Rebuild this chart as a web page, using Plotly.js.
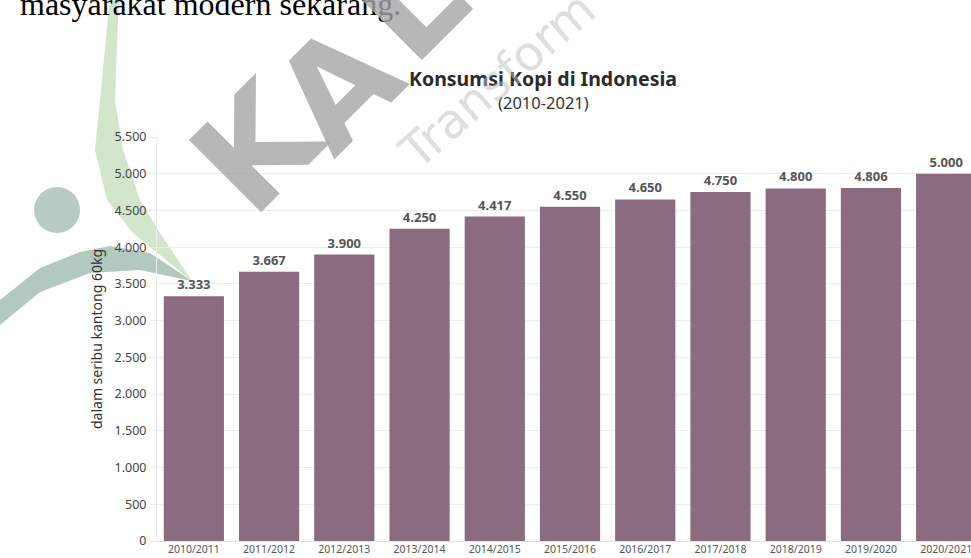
<!DOCTYPE html>
<html>
<head>
<meta charset="utf-8">
<script src="https://cdn.plot.ly/plotly-3.0.1.min.js"></script>
<style>
  html, body { margin: 0; padding: 0; background: #ffffff; }
  #chart { width: 971px; height: 558px; }
</style>
</head>
<body>
<div id="chart"></div>
<script>
// ---- data ----
const categories = ['2010/2011', '2011/2012', '2012/2013', '2013/2014', '2014/2015', '2015/2016',
                    '2016/2017', '2017/2018', '2018/2019', '2019/2020', '2020/2021'];
const consumption = [3333, 3667, 3900, 4250, 4417, 4550, 4650, 4750, 4800, 4806, 5000];
const chartTitle = 'Konsumsi Kopi di Indonesia';
const chartSubtitle = '(2010-2021)';
const yAxisTitle = 'dalam seribu kantong 60kg';
const pageText = 'masyarakat modern sekarang.';
const watermarkLetters = ['K', 'A', 'L'];
const watermarkWord = 'Transform';

// ---- layout helpers (pixel -> paper) ----
const W = 971, H = 558;
const M = { l: 157, r: 0, t: 137, b: 17 };
const PW = W - M.l - M.r, PH = H - M.t - M.b;
const px = x => (x - M.l) / PW;
const py = y => (H - M.b - y) / PH;
const path = pts => pts.map((p, i) => (i ? 'L' : 'M') + px(p[0]).toFixed(4) + ',' + py(p[1]).toFixed(4)).join(' ') + ' Z';

const FONT = '"Noto Sans", "Open Sans", sans-serif';

const trace = {
  type: 'bar',
  x: categories,
  y: consumption,
  marker: { color: '#8b6b80' },
  text: consumption,
  texttemplate: '%{y:,.0f}',
  textposition: 'outside',
  textfont: { family: FONT, size: 13, color: '#555555', weight: 'bold' },
  cliponaxis: false,
  hoverinfo: 'skip'
};

// watermark letter positions (centres in px)
const letterPos = [[257, 147], [338, 88], [410, 4]];

const annotations = [
  { text: chartSubtitle, xref: 'paper', yref: 'paper', x: px(543), y: py(103),
    xanchor: 'center', yanchor: 'middle', showarrow: false,
    font: { family: FONT, size: 16.5, color: '#333333' } },
  { text: pageText, xref: 'paper', yref: 'paper', x: px(18), y: py(24),
    xanchor: 'left', yanchor: 'bottom', showarrow: false,
    font: { family: '"Liberation Serif", "Times New Roman", serif', size: 32, color: '#000000' } },
  { text: watermarkWord, xref: 'paper', yref: 'paper', x: px(497), y: py(80),
    xanchor: 'center', yanchor: 'middle', showarrow: false, textangle: -41,
    font: { family: '"DejaVu Sans", sans-serif', size: 48, color: 'rgba(190,190,190,0.5)' } }
].concat(watermarkLetters.map((ch, i) => ({
  text: ch, xref: 'paper', yref: 'paper', x: px(letterPos[i][0]), y: py(letterPos[i][1]),
  xanchor: 'center', yanchor: 'middle', showarrow: false, textangle: -45,
  font: { family: '"DejaVu Sans", sans-serif', size: 140, weight: 'bold', color: 'rgba(165,165,165,0.8)' }
})));

const shapes = [
  // green crescent
  { type: 'path', xref: 'paper', yref: 'paper', layer: 'below', line: { width: 0 },
    fillcolor: '#d3e6cb',
    path: path([[110, -5], [100, 100], [95, 150], [107, 200], [133, 233], [192, 281],
                [160, 233], [140, 200], [123, 150], [115, 100], [119, -5]]) },
  // teal swoosh
  { type: 'path', xref: 'paper', yref: 'paper', layer: 'below', line: { width: 0 },
    fillcolor: '#b3c8be',
    path: path([[0, 300], [40, 268], [80, 252], [110, 246], [150, 253], [192, 281],
                [140, 270], [90, 273], [40, 292], [0, 325]]) },
  // teal dot
  { type: 'circle', xref: 'paper', yref: 'paper', layer: 'below', line: { width: 0 },
    fillcolor: '#b8ccc3',
    x0: px(34), x1: px(80), y0: py(233), y1: py(187) }
];

const layout = {
  width: W, height: H,
  margin: M,
  paper_bgcolor: '#ffffff',
  plot_bgcolor: 'rgba(0,0,0,0)',
  separators: ',.',
  showlegend: false,
  bargap: 0.2,
  font: { family: FONT, color: '#444444' },
  title: {
    text: '<b>' + chartTitle + '</b>',
    xref: 'paper', yref: 'container',
    x: px(543), xanchor: 'center',
    y: 1 - 79 / H, yanchor: 'middle',
    font: { family: FONT, size: 19.5, color: '#2b2b2b' }
  },
  xaxis: {
    type: 'category',
    range: [-0.49, 10.33],
    showgrid: false, zeroline: false, showline: false,
    ticks: '', automargin: false,
    tickfont: { family: FONT, size: 10.5, color: '#555555' }
  },
  yaxis: {
    range: [0, 5500], dtick: 500, tick0: 0,
    tickformat: ',d',
    showgrid: true, gridcolor: '#ececec', gridwidth: 1,
    zeroline: true, zerolinecolor: '#e2e2e2',
    showline: true, linecolor: '#ececec',
    ticks: 'outside', ticklen: 7, tickcolor: '#ececec',
    automargin: false,
    tickfont: { family: FONT, size: 12.5, color: '#444444' },
    title: { text: yAxisTitle, standoff: 8, font: { family: FONT, size: 14, color: '#333333' } }
  },
  annotations: annotations,
  shapes: shapes
};

Plotly.newPlot('chart', [trace], layout, { displayModeBar: false, staticPlot: true });
</script>
</body>
</html>
